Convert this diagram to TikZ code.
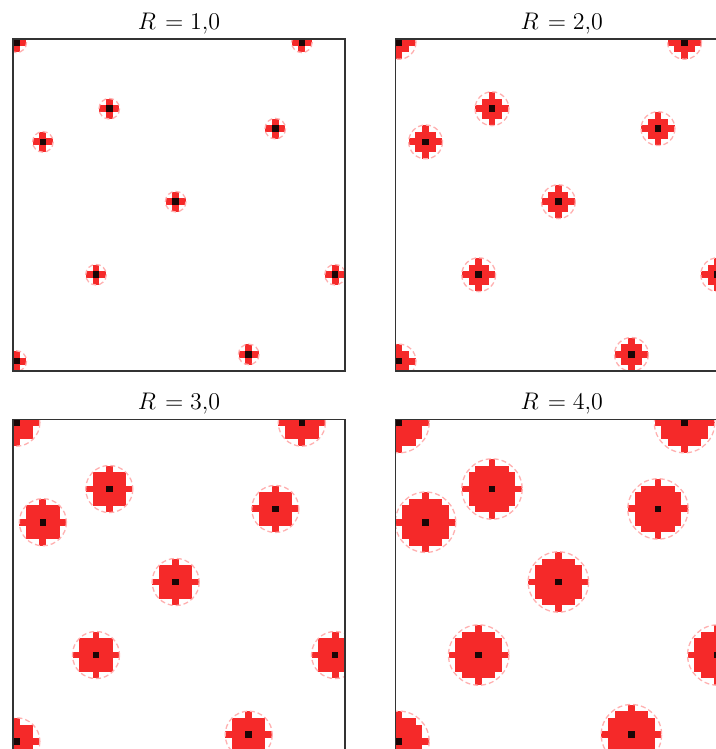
\documentclass[tikz,border=0pt]{standalone}
\definecolor{cellred}{RGB}{245,41,41}
\definecolor{cellcore}{RGB}{26,6,6}
\definecolor{ringpink}{RGB}{255,176,176}
\tikzset{
  cell/.style={fill=cellred},
  core/.style={fill=cellcore},
  ring/.style={draw=ringpink, line width=0.65pt, dash pattern=on 2.5pt off 1.5pt},
  frame/.style={draw=black!80, line width=0.65pt},
  paneltitle/.style={anchor=base, inner sep=0pt, font=\fontsize{12.6}{14}\selectfont}
}
\def\cs{6.64}
\def\pts{0/0,43/0,14/10,4/15,39/13,24/24,12/35,48/35,35/47,0/48}
\newcommand\drawpanel[4]{% x0, y0, R, name
  \begin{scope}
    \clip (#1,#2) rectangle ++(332,332);
    \foreach \px/\py in \pts {
      \foreach \dx in {-#3,...,#3} {
        \foreach \dy in {-#3,...,#3} {
          \pgfmathtruncatemacro\ok{(\dx*\dx+\dy*\dy<=#3*#3)?1:0}
          \ifnum\ok=1
            \fill[cell] ({#1+(\px+\dx)*\cs-0.15},{#2+(\py+\dy)*\cs-0.15}) rectangle ++({\cs+0.3},{\cs+0.3});
          \fi
        }
      }
    }
    \foreach \px/\py in \pts {
      \fill[core] ({#1+\px*\cs},{#2+\py*\cs}) rectangle ++(\cs,\cs);
    }
    \foreach \px/\py in \pts {
      \draw[ring] ({#1+(\px+0.5)*\cs},{#2+(\py+0.5)*\cs}) circle[radius={(#3+0.55)*\cs}];
    }
  \end{scope}
  \draw[frame] (#1,#2) rectangle ++(332,332);
  \node[paneltitle] (#4) at ({#1+166},{#2-9.8}) {$R\mskip2mu = #3{,}0$};
}
\begin{document}
\begin{tikzpicture}[x=0.5pt,y=-0.5pt]
  \useasboundingbox (0,0) rectangle (716,749);
  \clip (0,0) rectangle (716,749);
  \fill[white] (0,0) rectangle (716,749);
  \drawpanel{13}{39}{1}{t1}
  \drawpanel{395.7}{39}{2}{t2}
  \drawpanel{13}{419.3}{3}{t3}
  \drawpanel{395.7}{419.3}{4}{t4}
\end{tikzpicture}
\end{document}
